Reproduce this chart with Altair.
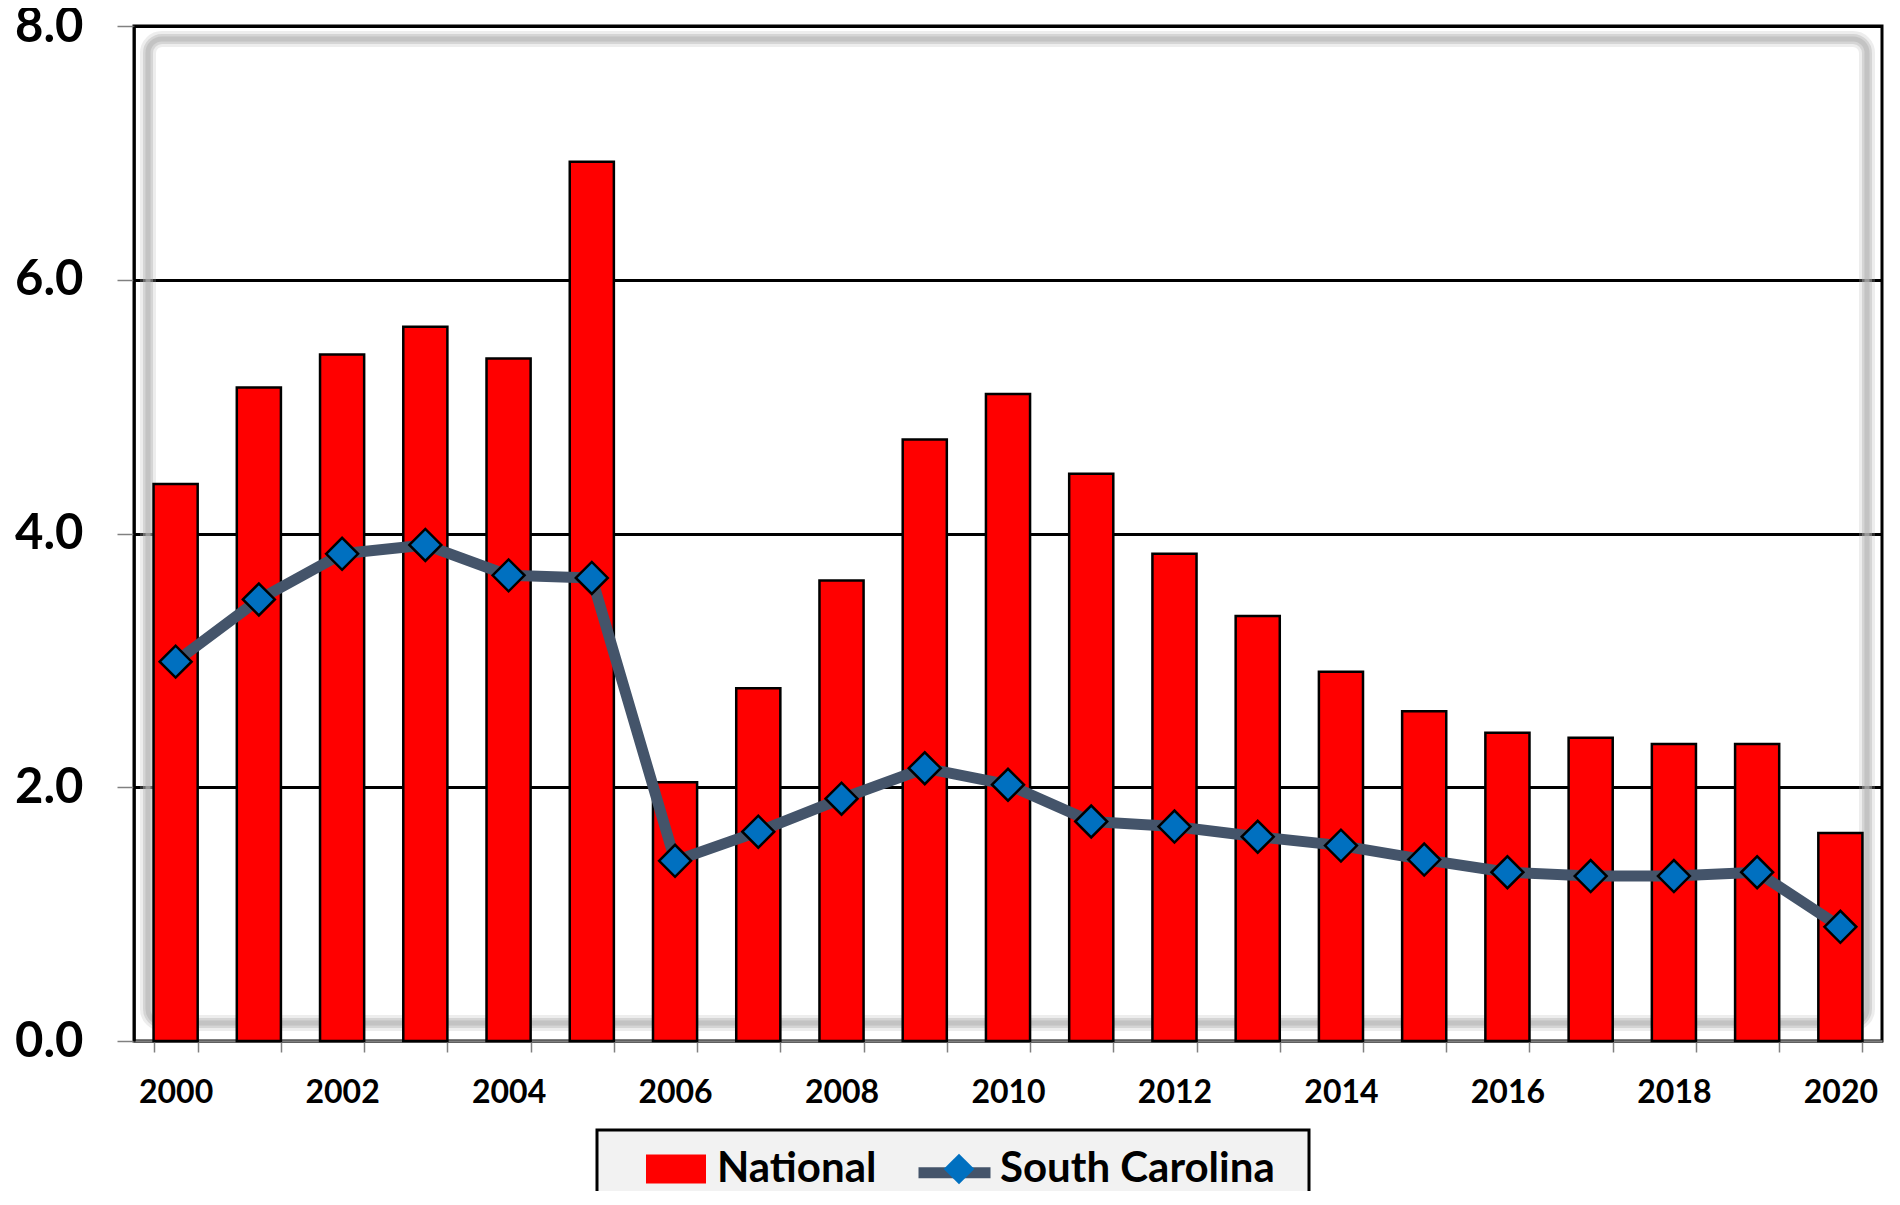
import altair as alt
import pandas as pd

years = [str(y) for y in range(2000, 2021)]
national = [4.39, 5.15, 5.41, 5.63, 5.38, 6.93, 2.04, 2.78, 3.63, 4.74, 5.10,
            4.47, 3.84, 3.35, 2.91, 2.60, 2.43, 2.39, 2.34, 2.34, 1.64]
south_carolina = [2.99, 3.48, 3.84, 3.91, 3.67, 3.65, 1.42, 1.65, 1.91, 2.15, 2.02,
                  1.73, 1.69, 1.61, 1.54, 1.43, 1.33, 1.30, 1.30, 1.33, 0.90]
series_names = ["National", "South Carolina"]
y_ticks = [0, 2, 4, 6, 8]

W, H = 1748, 1015
FONT = "Lato"

df_nat = pd.DataFrame({"year": years, "value": national, "series": "National"})
df_sc = pd.DataFrame({"year": years, "value": south_carolina, "series": "South Carolina"})

x_enc = alt.X(
    "year:O",
    scale=alt.Scale(paddingInner=0.47, paddingOuter=0.235),
    axis=alt.Axis(
        title=None, labelAngle=0, labelFont=FONT, labelFontSize=32, labelFontWeight="bold",
        labelColor="black", labelPadding=25, labelOverlap=False,
        labelExpr="toNumber(datum.value) % 2 == 0 ? datum.value : ''",
        tickBand="extent", tickColor="#808080", tickSize=11, tickWidth=1.5,
        domainColor="#7f7f7f", domainWidth=2.5, grid=False,
    ),
)
y_scale = alt.Scale(domain=[0, 8], nice=False, zero=True)
y_axis = alt.Axis(
    title=None, values=y_ticks, format=".1f", labelFont=FONT, labelFontSize=49,
    labelFontWeight="bold", labelColor="black", labelPadding=34,
    tickColor="#808080", tickSize=17, tickWidth=1.5,
    domainColor="black", domainWidth=2.5,
    grid=True, gridColor="black", gridWidth=3,
)

dummy = alt.Data(values=[{"k": 0}])

def shadow(width, opacity):
    return alt.Chart(dummy).mark_rect(
        filled=False, stroke="#b8b8b8", strokeWidth=width, strokeOpacity=opacity, cornerRadius=14
    ).encode(x=alt.value(14), x2=alt.value(W - 15), y=alt.value(13), y2=alt.value(H - 18))

shadows = shadow(16, 0.25) + shadow(10, 0.45) + shadow(5, 0.6)

bars = alt.Chart(df_nat).mark_bar(
    color="#FF0000", stroke="black", strokeWidth=2.5
).encode(x=x_enc, y=alt.Y("value:Q", scale=y_scale, axis=y_axis))

RECT = "M-0.822,-0.397H0.822V0.397H-0.822Z"
DIAM = "M-0.42,0L0,-0.42L0.42,0L0,0.42Z"

common_legend = dict(
    title=None, orient="none", legendY=1105, direction="horizontal",
    columns=2, columnPadding=44, padding=0, labelFont=FONT, labelFontSize=42,
    labelFontWeight="bold", labelColor="black", labelOffset=3, labelLimit=600,
)

line = alt.Chart(df_sc).mark_line(
    strokeWidth=11, strokeCap="round", strokeJoin="round"
).encode(
    x=x_enc, y=alt.Y("value:Q", scale=y_scale),
    stroke=alt.Stroke(
        "series:N",
        scale=alt.Scale(range=["#44546A"]),
        legend=alt.Legend(
            legendX=779, symbolType="stroke", symbolSize=5184, symbolStrokeWidth=11,
            labelOpacity=0, zindex=0, **common_legend,
        ),
    ),
)

points = alt.Chart(df_sc).mark_point(
    filled=True, size=5776, stroke="black", strokeWidth=2.5, opacity=1
).encode(
    x=x_enc, y=alt.Y("value:Q", scale=y_scale),
    color=alt.Color(
        "series:N",
        scale=alt.Scale(domain=series_names, range=["#FF0000", "#0070C0"]),
        legend=alt.Legend(
            legendX=504, symbolSize=5329, symbolStrokeWidth=2.5, symbolStrokeColor="black",
            symbolOpacity=1, zindex=1, **common_legend,
        ),
    ),
    shape=alt.Shape(
        "series:N",
        scale=alt.Scale(domain=series_names, range=[RECT, DIAM]),
        legend=alt.Legend(
            legendX=504, symbolSize=5329, symbolStrokeWidth=2.5, symbolStrokeColor="black",
            symbolOpacity=1, zindex=1, **common_legend,
        ),
    ),
)

legend_box = alt.Chart(dummy).mark_rect(
    fill="#F2F2F2", stroke="black", strokeWidth=3
).encode(x=alt.value(463), x2=alt.value(1175), y=alt.value(1104), y2=alt.value(1210))

chart = alt.layer(shadows, bars, line, points, legend_box).properties(
    width=W, height=H,
    autosize=alt.AutoSizeParams(type="none"),
    padding={"left": 126, "top": 18, "right": 10, "bottom": 150},
    background="white",
).configure_view(stroke="black", strokeWidth=3)

chart.save("out.html", embed_options={"renderer": "svg", "actions": False})
